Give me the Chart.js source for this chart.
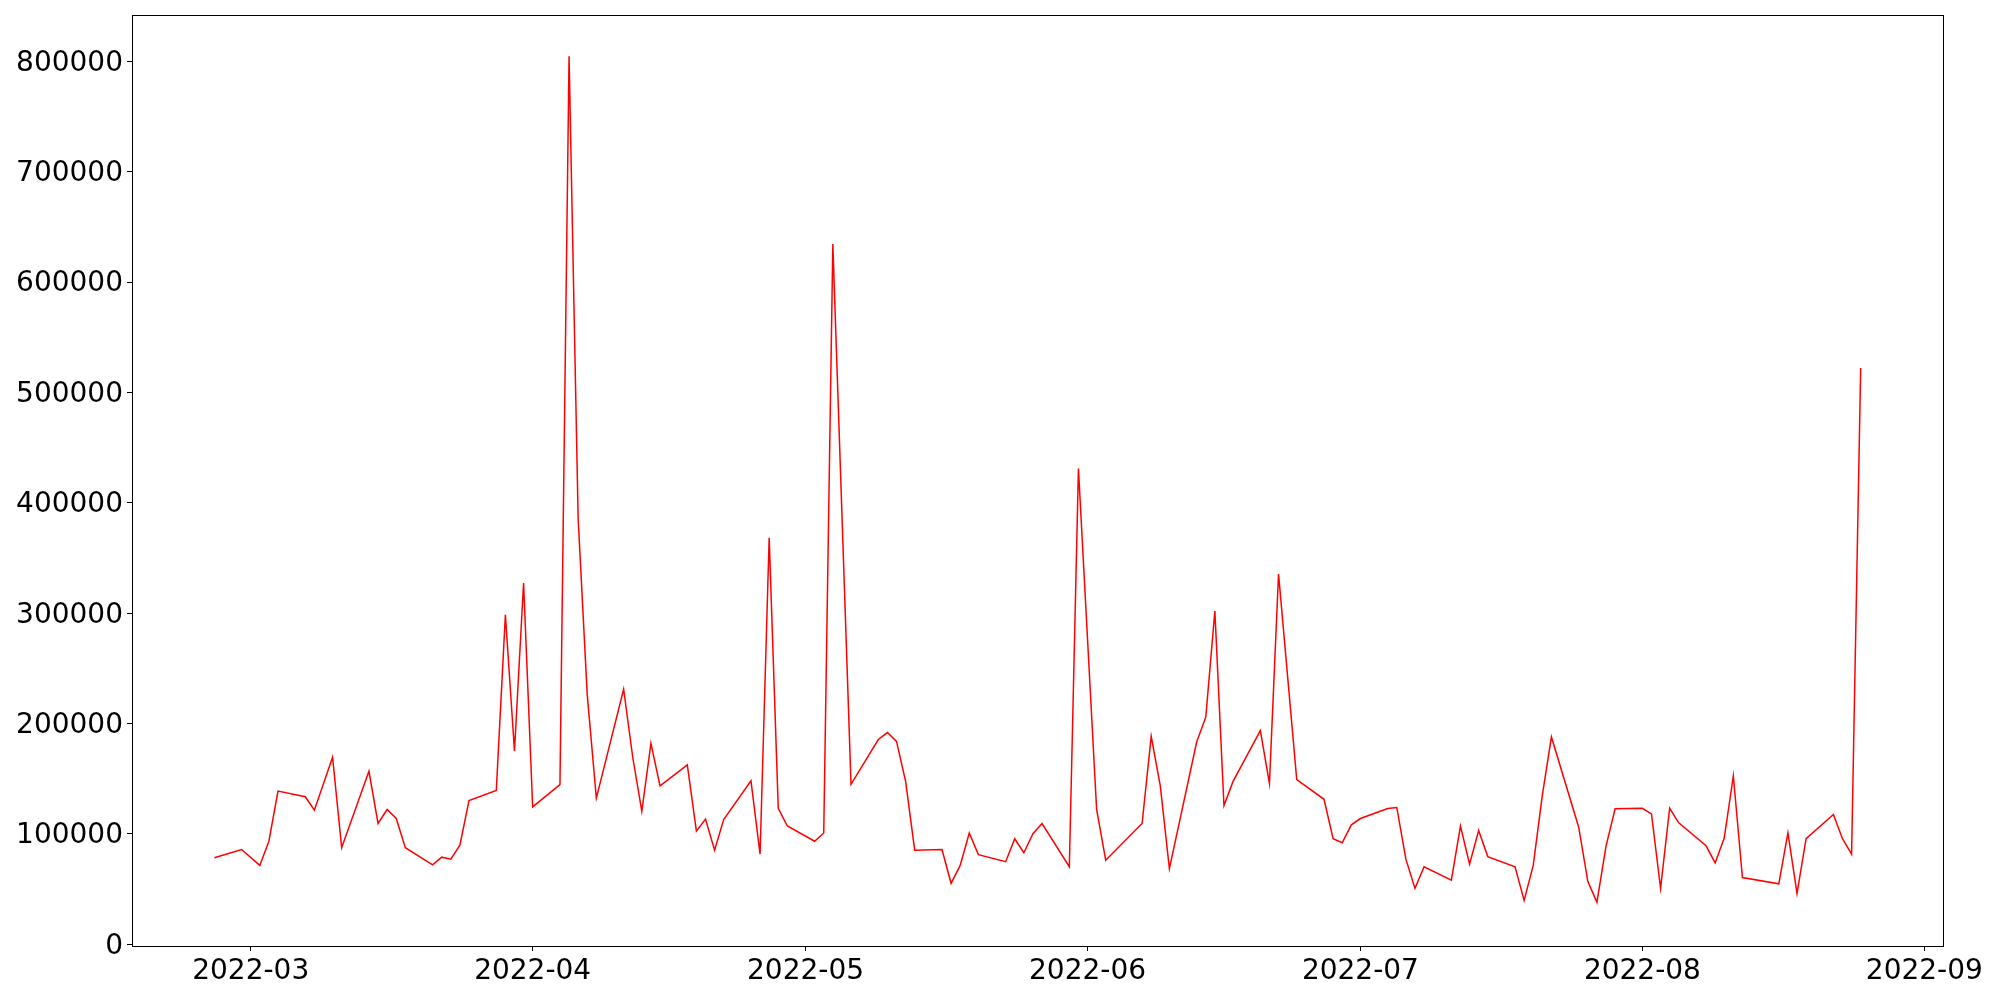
<!DOCTYPE html>
<html>
<head>
<meta charset="utf-8">
<script src="https://cdn.jsdelivr.net/npm/chart.js@4/dist/chart.umd.min.js"></script>
<style>
html,body{margin:0;padding:0;background:#fff;}
#wrap{width:2000px;height:1000px;}
</style>
</head>
<body>
<div id="wrap"><canvas id="c" width="2000" height="1000"></canvas></div>
<script>
const dates = [
'2022-02-25','2022-02-28','2022-03-02','2022-03-03','2022-03-04','2022-03-07','2022-03-08','2022-03-10','2022-03-11',
'2022-03-14','2022-03-15','2022-03-16','2022-03-17','2022-03-18','2022-03-21','2022-03-22','2022-03-23','2022-03-24','2022-03-25',
'2022-03-28','2022-03-29','2022-03-30','2022-03-31','2022-04-01','2022-04-04','2022-04-05','2022-04-06','2022-04-07','2022-04-08',
'2022-04-11','2022-04-12','2022-04-13','2022-04-14','2022-04-15','2022-04-18','2022-04-19','2022-04-20','2022-04-21','2022-04-22',
'2022-04-25','2022-04-26','2022-04-27','2022-04-28','2022-04-29','2022-05-02','2022-05-03','2022-05-04','2022-05-06',
'2022-05-09','2022-05-10','2022-05-11','2022-05-12','2022-05-13','2022-05-16','2022-05-17','2022-05-18','2022-05-19','2022-05-20',
'2022-05-23','2022-05-24','2022-05-25','2022-05-26','2022-05-27','2022-05-30','2022-05-31','2022-06-02','2022-06-03',
'2022-06-07','2022-06-08','2022-06-09','2022-06-10','2022-06-13','2022-06-14','2022-06-15','2022-06-16','2022-06-17',
'2022-06-20','2022-06-21','2022-06-22','2022-06-24','2022-06-27','2022-06-28','2022-06-29','2022-06-30','2022-07-01',
'2022-07-04','2022-07-05','2022-07-06','2022-07-07','2022-07-08','2022-07-11','2022-07-12','2022-07-13','2022-07-14','2022-07-15',
'2022-07-18','2022-07-19','2022-07-20','2022-07-21','2022-07-22','2022-07-25','2022-07-26','2022-07-27','2022-07-28','2022-07-29',
'2022-08-01','2022-08-02','2022-08-03','2022-08-04','2022-08-05','2022-08-08','2022-08-09','2022-08-10','2022-08-11','2022-08-12',
'2022-08-16','2022-08-17','2022-08-18','2022-08-19','2022-08-22','2022-08-23','2022-08-24','2022-08-25'
];
const values = [
78400,85900,71500,93400,138900,133700,121600,169500,87600,
156800,109500,122200,114100,87600,72100,79000,77200,89900,130300,
139500,298600,175200,327400,124500,144700,804700,385600,226000,132500,
231100,169500,120500,182100,143500,162500,102600,113500,85300,113000,
148100,81800,368300,123300,107200,93400,100900,634600,145000,
185600,191900,183900,147600,85300,85900,55300,71500,100900,81300,
74900,95700,83000,100300,109500,70300,431100,122200,76200,
109500,188500,143500,68600,183300,205800,302000,125700,147600,
193700,145800,335500,149300,131400,95700,92000,108300,114000,
123000,124000,77200,50700,70300,58200,107200,72600,103200,79500,
70300,39800,71500,134900,187900,106100,57100,38000,88800,122800,
123300,118200,50700,123300,110100,89300,73800,96300,152700,60500,
54800,100900,46100,95700,117600,95700,81800,522200
];
const xTickLabels = ['2022-03','2022-04','2022-05','2022-06','2022-07','2022-08','2022-09'];
const yTickValues = [0,100000,200000,300000,400000,500000,600000,700000,800000];

const toMs = s => { const p = s.split('-').map(Number); return Date.UTC(p[0], p[1]-1, p[2] || 1); };
const points = dates.map((d,i) => ({x: toMs(d), y: values[i]}));
const xFirst = toMs(dates[0]), xLast = toMs(dates[dates.length-1]);
const xPad = (xLast - xFirst) * 0.05;

const boxPlugin = {
  id: 'box',
  afterDraw(chart) {
    const a = chart.chartArea, ctx = chart.ctx;
    ctx.save();
    ctx.strokeStyle = '#000';
    ctx.lineWidth = 1;
    ctx.strokeRect(Math.round(a.left)+0.5, Math.round(a.top)+0.5, Math.round(a.right-a.left), Math.round(a.bottom-a.top));
    ctx.restore();
  }
};

const font = {family: 'DejaVu Sans', size: 28};

new Chart(document.getElementById('c'), {
  type: 'line',
  data: { datasets: [{ data: points, borderColor: '#ff0000', borderWidth: 1.5, pointRadius: 0, tension: 0, fill: false }] },
  options: {
    responsive: false, animation: false, devicePixelRatio: 1,
    layout: { padding: { top: 15, right: 57, left: 0, bottom: 0 } },
    plugins: { legend: {display: false}, tooltip: {enabled: false} },
    scales: {
      x: {
        type: 'linear', min: xFirst - xPad, max: xLast + xPad,
        afterBuildTicks: s => { s.ticks = xTickLabels.map(t => ({value: toMs(t)})); },
        afterFit: s => { s.height = 54; s.paddingLeft = 0; s.paddingRight = 0; },
        ticks: { color: '#000', font, padding: 4, maxRotation: 0, autoSkip: false,
          callback: v => { const d = new Date(v); return d.getUTCFullYear() + '-' + String(d.getUTCMonth()+1).padStart(2,'0'); } },
        grid: { drawOnChartArea: false, drawTicks: true, tickLength: 5, color: '#000', tickWidth: 1 },
        border: { display: true, color: '#000', width: 1 }
      },
      y: {
        type: 'linear', min: -1500, max: 842000,
        afterBuildTicks: s => { s.ticks = yTickValues.map(v => ({value: v})); },
        afterFit: s => { s.width = 132; s.paddingTop = 0; s.paddingBottom = 0; },
        ticks: { color: '#000', font, padding: 4, labelOffset: 2, autoSkip: false, callback: v => String(v) },
        grid: { drawOnChartArea: false, drawTicks: true, tickLength: 5, color: '#000', tickWidth: 1 },
        border: { display: true, color: '#000', width: 1 }
      }
    }
  },
  plugins: [boxPlugin]
});
</script>
</body>
</html>
